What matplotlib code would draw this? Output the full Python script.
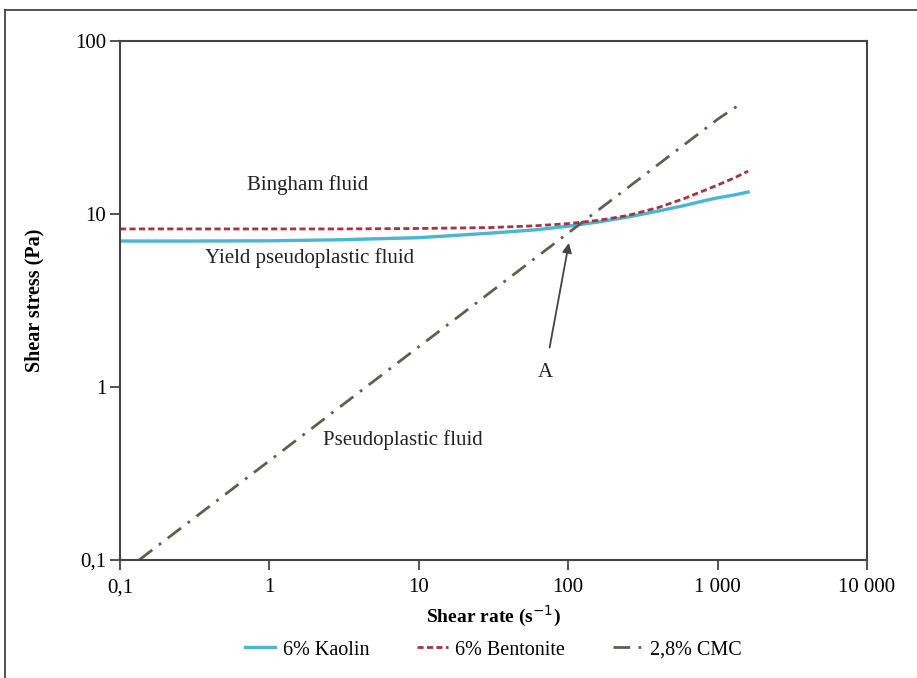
import matplotlib.pyplot as plt
from matplotlib.lines import Line2D
from matplotlib.ticker import FixedLocator, NullLocator

# data
shear_rate = [0.1, 0.3, 1, 3, 10, 30, 60, 100, 160, 250, 400, 600, 800, 1000, 1300, 1600]
kaolin = [6.98, 6.98, 7.0, 7.1, 7.3, 7.75, 8.1, 8.5, 9.0, 9.6, 10.4, 11.2, 11.9, 12.4, 12.9, 13.4]
bentonite = [8.2, 8.2, 8.2, 8.2, 8.25, 8.35, 8.55, 8.8, 9.2, 9.8, 10.9, 12.3, 13.6, 14.7, 16.2, 17.7]
cmc_rate = [0.134, 1, 10, 100, 1000, 1456]
cmc = [0.1, 0.375, 1.71, 7.77, 35.3, 43.9]

x_ticks = [0.1, 1, 10, 100, 1000, 10000]
x_labels = ["0,1", "1", "10", "100", "1 000", "10 000"]
y_ticks = [0.1, 1, 10, 100]
y_labels = ["0,1", "1", "10", "100"]

plt.rcParams['font.family'] = ['Liberation Serif', 'DejaVu Serif']

fig = plt.figure(figsize=(9.17, 6.78), dpi=100)
ax = fig.add_axes([0.1309, 0.174, 0.8146, 0.7655])

ax.plot(shear_rate, kaolin, color='#4ab6d0', lw=2.4, label='6% Kaolin')
ax.plot(shear_rate, bentonite, color='#a33440', lw=2.0, ls=(0, (2.2, 1.2)), label='6% Bentonite')
ax.plot(cmc_rate, cmc, color='#5b6152', lw=2.0, ls=(0, (6, 3, 1, 3)), label='2,8% CMC')

ax.set_xscale('log')
ax.set_yscale('log')
ax.set_xlim(0.1, 10000)
ax.set_ylim(0.1, 100)
ax.xaxis.set_major_locator(FixedLocator(x_ticks))
ax.yaxis.set_major_locator(FixedLocator(y_ticks))
ax.xaxis.set_minor_locator(NullLocator())
ax.yaxis.set_minor_locator(NullLocator())
ax.set_xticklabels(x_labels)
ax.set_yticklabels(y_labels)
ax.tick_params(length=7, width=1.3, color='#444444', labelsize=15)
ax.tick_params(axis='x', pad=6)
ax.tick_params(axis='y', pad=3)

for s in ax.spines.values():
    s.set_color('#444444')
    s.set_linewidth(1.5)

ax.set_xlabel('Shear rate (s$^{-1}$)', fontsize=14, fontweight='bold', labelpad=5)
ax.set_ylabel('Shear stress (Pa)', fontsize=14.5, fontweight='bold', labelpad=22)

# annotations
ax.text(1.8, 14.7, 'Bingham fluid', fontsize=15, ha='center', va='center', color='#222222')
ax.text(1.85, 5.57, 'Yield pseudoplastic fluid', fontsize=15, ha='center', va='center', color='#222222')
ax.text(7.8, 0.494, 'Pseudoplastic fluid', fontsize=15, ha='center', va='center', color='#222222')
ax.annotate('A', xy=(101, 6.8), xytext=(70, 1.22), fontsize=15, ha='center', va='center',
            color='#222222',
            arrowprops=dict(arrowstyle='-|>', color='#444444', lw=1.3, mutation_scale=14,
                            shrinkA=9, shrinkB=0))

ax.legend(loc='upper center', bbox_to_anchor=(0.5, -0.12), ncol=3, frameon=False,
          fontsize=14.5, handlelength=1.5, columnspacing=2.4, handletextpad=0.35)

# outer frame (top and left edges visible)
fig.add_artist(Line2D([5 / 917, 1.0], [1 - 10 / 678, 1 - 10 / 678], color='#444444', lw=1.3,
                      transform=fig.transFigure))
fig.add_artist(Line2D([5 / 917, 5 / 917], [0.0, 1 - 10 / 678], color='#444444', lw=1.3,
                      transform=fig.transFigure))

fig.savefig('out.png', dpi=100)
